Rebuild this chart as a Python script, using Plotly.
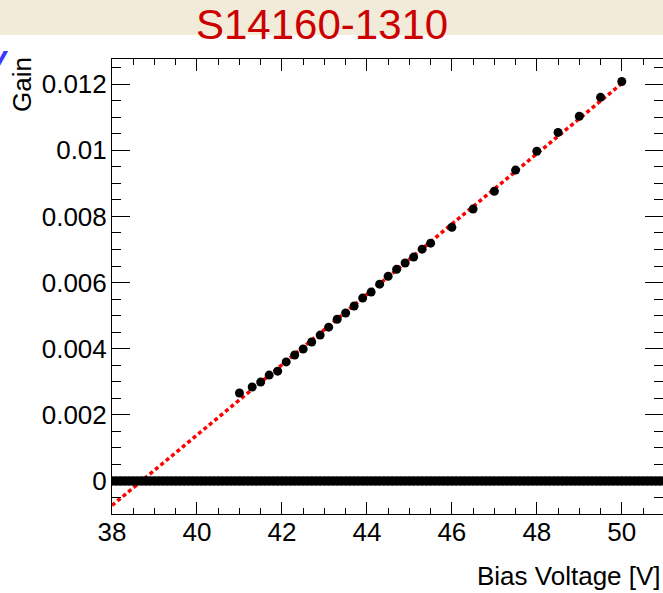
import numpy as np
import plotly.graph_objects as go

# Measured gain vs. bias voltage for the S14160-1310 SiPM
bias_v = [41.0, 41.3, 41.5, 41.7, 41.9, 42.1, 42.3, 42.5, 42.7, 42.9, 43.1,
          43.3, 43.5, 43.7, 43.9, 44.1, 44.3, 44.5, 44.7, 44.9, 45.1, 45.3,
          45.5, 46.0, 46.5, 47.0, 47.5, 48.0, 48.5, 49.0, 49.5, 50.0]
gain = [0.00266, 0.00284, 0.00299, 0.00320, 0.00332, 0.00360, 0.00381,
        0.00399, 0.00420, 0.00441, 0.00465, 0.00489, 0.00508, 0.00529,
        0.00553, 0.00571, 0.00595, 0.00619, 0.00640, 0.00659, 0.00677,
        0.00701, 0.00719, 0.00767, 0.00822, 0.00876, 0.00940, 0.00997,
        0.01054, 0.01103, 0.01160, 0.01208]

# Empty graph points sitting at zero gain over the full scan range
zero_v = np.arange(38.0, 51.01, 0.1)
zero_gain = np.zeros_like(zero_v)

# Linear fit drawn between its end points
fit_v = [38.0, 50.0]
fit_gain = [-0.00074, 0.01202]

W, H = 663, 593
L, R, T, B = 112, 0, 59, 79
pw, ph = W - L - R, H - T - B


def px(x):
    return (x - L) / pw


def py(y):
    return (H - B - y) / ph


FONT = "Liberation Sans, Arial, Helvetica, sans-serif"

fig = go.Figure()

# Dense zero points: solid band with a round marker at each point
fig.add_trace(go.Scatter(
    x=zero_v, y=zero_gain, mode="lines", yaxis="y2",
    line=dict(color="black", width=9),
    hoverinfo="skip", showlegend=False))
fig.add_trace(go.Scatter(
    x=zero_v, y=zero_gain, mode="markers", yaxis="y2",
    marker=dict(color="black", size=9, line=dict(width=0)),
    hoverinfo="skip", showlegend=False))

fig.add_trace(go.Scatter(
    x=fit_v, y=fit_gain, mode="lines",
    line=dict(color="#ff0000", width=3.5, dash="4px,3px"),
    hoverinfo="skip", showlegend=False))

fig.add_trace(go.Scatter(
    x=bias_v, y=gain, mode="markers",
    marker=dict(color="black", size=9),
    showlegend=False))

tickfont = dict(family=FONT, size=26, color="black")

fig.update_layout(
    width=W, height=H,
    margin=dict(l=L, r=R, t=T, b=B, pad=0),
    paper_bgcolor="white", plot_bgcolor="white",
    font=dict(family=FONT, color="black"),
    xaxis=dict(
        range=[38, 50.97], dtick=2, tick0=38,
        ticks="inside", ticklen=12, tickwidth=1, tickcolor="black",
        showline=True, linecolor="black", linewidth=1, mirror="ticks",
        showgrid=False, zeroline=False, tickfont=tickfont,
        ticklabelstandoff=-5,
        minor=dict(dtick=0.5, tick0=38, ticks="inside", ticklen=6,
                   tickcolor="black", showgrid=False),
    ),
    yaxis=dict(
        range=[-0.001, 0.01276], dtick=0.002, tick0=0,
        ticks="inside", ticklen=18, tickwidth=1, tickcolor="black",
        showline=True, linecolor="black", linewidth=1,
        showgrid=False, zeroline=False, tickfont=tickfont,
        tickformat="~g", ticklabelstandoff=-1,
        minor=dict(dtick=0.0005, tick0=0, ticks="inside", ticklen=9,
                   tickcolor="black", showgrid=False),
    ),
    yaxis2=dict(
        matches="y", overlaying="y", side="right",
        ticks="inside", ticklen=18, tickwidth=1, tickcolor="black",
        showline=False, showticklabels=False, showgrid=False,
        zeroline=False, dtick=0.002, tick0=0,
        minor=dict(dtick=0.0005, tick0=0, ticks="inside", ticklen=9,
                   tickcolor="black", showgrid=False),
    ),
)

# Header band behind the title
fig.add_shape(type="rect", xref="paper", yref="paper",
              x0=px(0), x1=px(W), y0=py(35), y1=py(0),
              fillcolor="#f2ebd9", line=dict(width=0), layer="below")

annotations = [
    dict(text="S14160-1310", x=px(322), y=py(24), xanchor="center",
         yanchor="middle", font=dict(family=FONT, size=42, color="#cc0000")),
    dict(text="Gain", x=px(22), y=py(85), xanchor="center", yanchor="middle",
         textangle=-90, font=dict(family=FONT, size=26, color="black")),
    dict(text="Bias Voltage [V]", x=px(663), y=py(576), xanchor="right",
         yanchor="middle", font=dict(family=FONT, size=26, color="black")),
    dict(text="<b><i>V</i></b>", x=px(11), y=py(60), xanchor="right",
         yanchor="middle", font=dict(family=FONT, size=30, color="#3838ff")),
]
for a in annotations:
    fig.add_annotation(xref="paper", yref="paper", showarrow=False, **a)

fig.write_html("out.html")
